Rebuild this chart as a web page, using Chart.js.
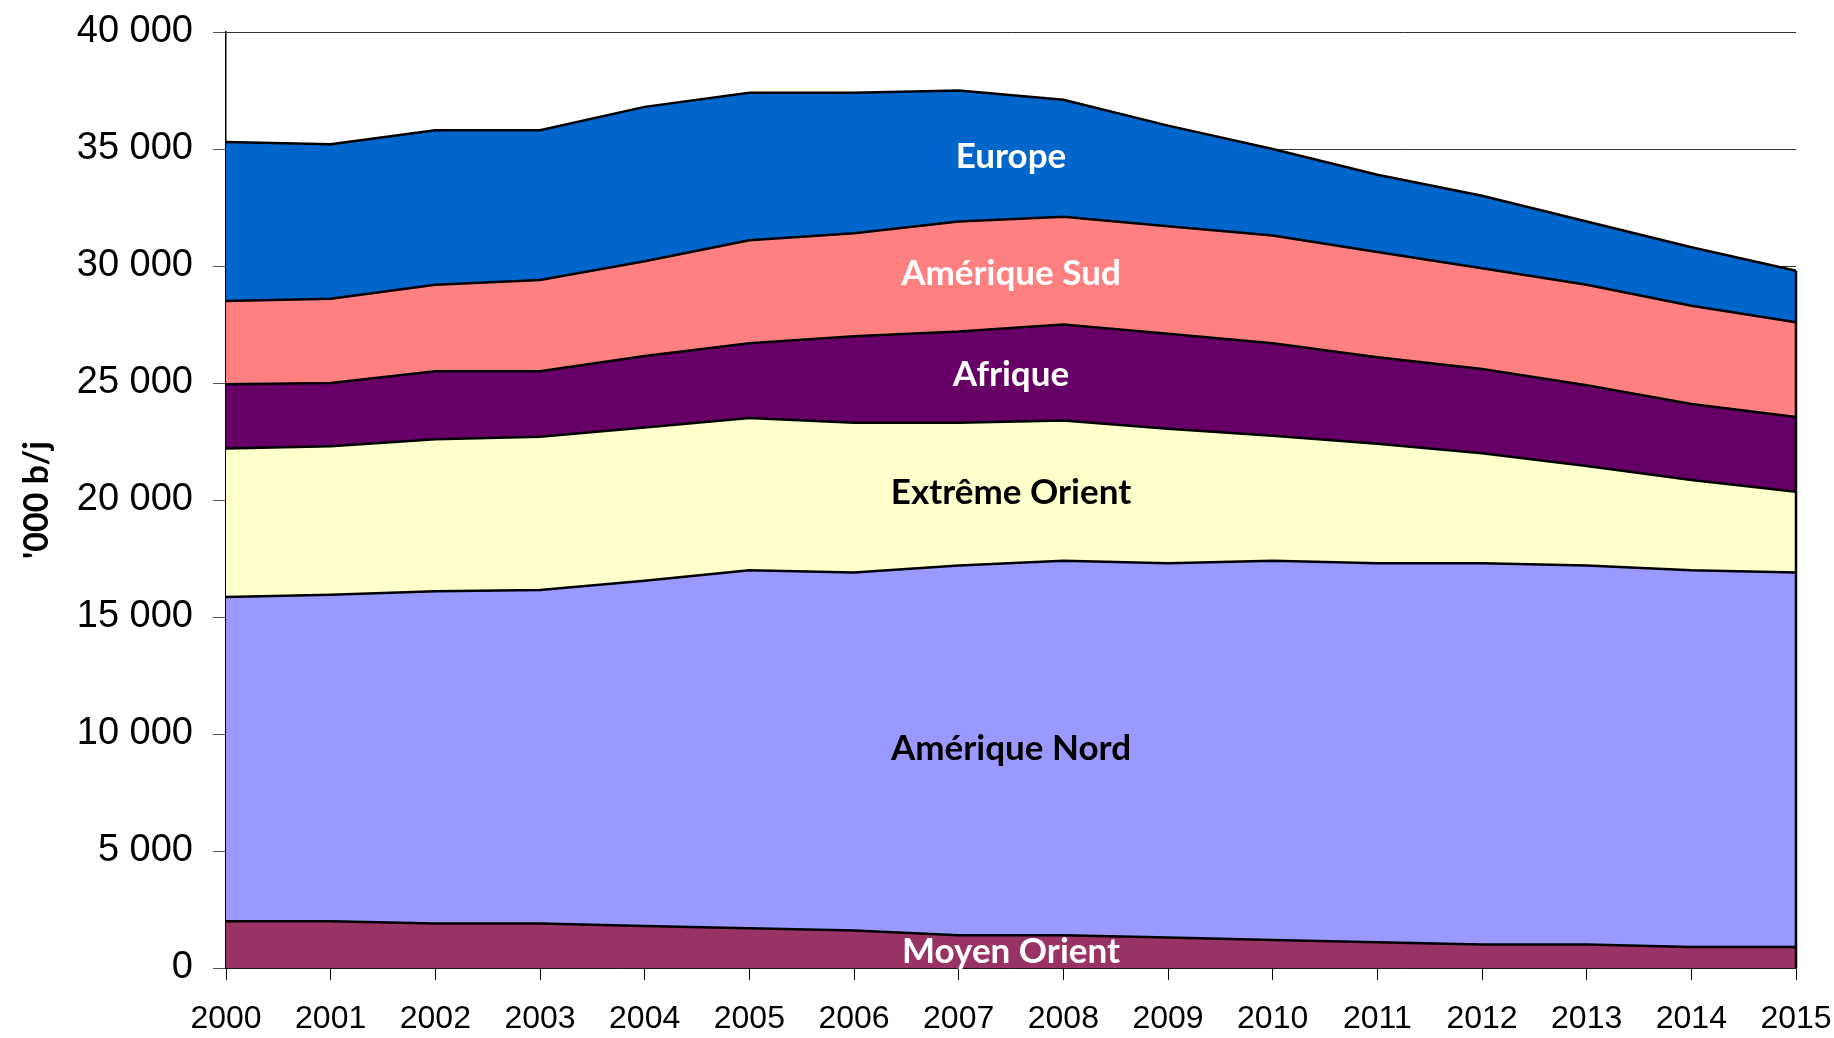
<!DOCTYPE html>
<html><head><meta charset="utf-8">
<script src="https://cdn.jsdelivr.net/npm/chart.js@4.4.1/dist/chart.umd.min.js"></script>
<style>html,body{margin:0;padding:0;background:#fff}#wrap{width:1834px;height:1038px;position:relative}</style>
</head><body><div id="wrap"><canvas id="c"></canvas></div>
<script>
const years = ['2000','2001','2002','2003','2004','2005','2006','2007','2008','2009','2010','2011','2012','2013','2014','2015'];
const moyenOrient    = [2000,2000,1900,1900,1800,1700,1600,1400,1400,1300,1200,1100,1000,1000,900,900];
const ameriqueNord   = [13850,13950,14200,14250,14750,15300,15300,15800,16000,16000,16200,16200,16300,16200,16100,16000];
const extremeOrient  = [6350,6350,6500,6550,6550,6500,6400,6100,6000,5750,5350,5100,4700,4250,3850,3450];
const afrique        = [2750,2700,2900,2800,3050,3200,3700,3900,4100,4050,3950,3700,3600,3450,3250,3200];
const ameriqueSud    = [3550,3600,3700,3900,4050,4400,4400,4700,4600,4600,4600,4500,4300,4300,4200,4050];
const europe         = [6800,6600,6600,6400,6600,6300,6000,5600,5000,4300,3700,3300,3100,2700,2500,2200];
const seriesNames = ['Moyen Orient','Amérique Nord','Extrême Orient','Afrique','Amérique Sud','Europe'];
const seriesValues = [moyenOrient, ameriqueNord, extremeOrient, afrique, ameriqueSud, europe];
const seriesColors = ['#993366','#9999FF','#FFFFCC','#660066','#FF8080','#0066CC'];
const labelColors  = ['#FFFFFF','#000000','#000000','#FFFFFF','#FFFFFF','#FFFFFF'];
const yAxisTitle = "'000 b/j";
const yMin = 0, yMax = 40000, yStep = 5000;

const labelFont = "'Comic Sans MS', Lato, sans-serif";
const tickFont = "'Liberation Sans', Arial, sans-serif";

function fmt(v){ return String(v).replace(/\B(?=(\d{3})+(?!\d))/g, ' '); }

const bandLabels = {
  id: 'bandLabels',
  afterDatasetsDraw(chart) {
    const ctx = chart.ctx, y = chart.scales.y, area = chart.chartArea;
    const xc = (area.left + area.right) / 2;
    const i0 = 7, i1 = 8;
    ctx.save();
    ctx.font = "bold 35px " + labelFont;
    ctx.textAlign = 'center';
    ctx.textBaseline = 'middle';
    let base0 = 0, base1 = 0;
    seriesValues.forEach((vals, k) => {
      const top0 = base0 + vals[i0], top1 = base1 + vals[i1];
      const mid = ((base0 + top0) / 2 + (base1 + top1) / 2) / 2;
      ctx.fillStyle = labelColors[k];
      ctx.fillText(seriesNames[k], xc, y.getPixelForValue(mid));
      base0 = top0; base1 = top1;
    });
    // right edge outline of the stacked area
    const last = years.length - 1;
    let total = 0; seriesValues.forEach(v => total += v[last]);
    const xs = chart.scales.x.getPixelForValue(last);
    ctx.strokeStyle = '#000'; ctx.lineWidth = 2.5;
    ctx.beginPath();
    ctx.moveTo(xs, y.getPixelForValue(0));
    ctx.lineTo(xs, y.getPixelForValue(total));
    ctx.stroke();
    ctx.restore();
  }
};

new Chart(document.getElementById('c'), {
  type: 'line',
  data: {
    labels: years,
    datasets: seriesValues.map((vals, k) => ({
      label: seriesNames[k],
      data: vals,
      backgroundColor: seriesColors[k],
      borderColor: '#000000',
      borderWidth: 2.5,
      fill: k === 0 ? 'origin' : '-1',
      pointRadius: 0,
      tension: 0
    }))
  },
  options: {
    responsive: true,
    maintainAspectRatio: false,
    animation: false,
    layout: { padding: { top: 32, right: 38, bottom: 0, left: 0 } },
    plugins: { legend: { display: false }, tooltip: { enabled: false } },
    scales: {
      x: {
        offset: false,
        grid: { display: true, drawOnChartArea: false, drawTicks: true, tickLength: 12, color: '#000', lineWidth: 1 },
        border: { display: true, color: '#000', width: 1.5 },
        ticks: { color: '#000', font: { family: tickFont, size: 32 }, padding: 20, maxRotation: 0, autoSkip: false },
        afterFit(s) { s.height = 70; s.paddingLeft = 0; s.paddingRight = 0; }
      },
      y: {
        stacked: true,
        min: yMin, max: yMax,
        grid: { color: '#333', lineWidth: 1, tickLength: 13, tickColor: '#555' },
        border: { display: true, color: '#000', width: 1.5 },
        ticks: { stepSize: yStep, color: '#000', font: { family: tickFont, size: 38 }, padding: 20, callback: v => fmt(v) },
        title: { display: true, text: yAxisTitle, color: '#000', font: { family: labelFont, size: 34, weight: 'bold' }, padding: { top: 17, bottom: 0 } },
        afterFit(s) { s.width = 226; s.paddingTop = 0; s.paddingBottom = 0; }
      }
    }
  },
  plugins: [bandLabels]
});
</script>
</body></html>
